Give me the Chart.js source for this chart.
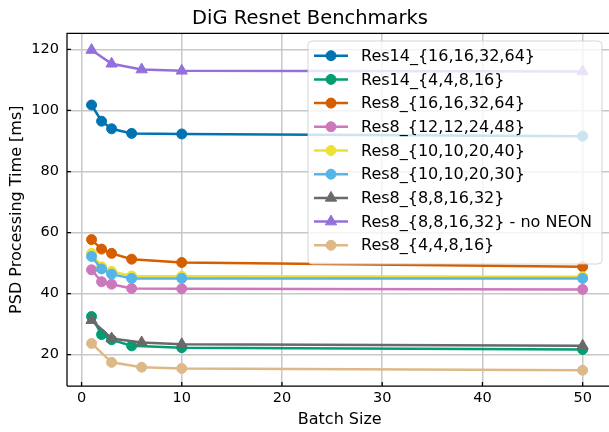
<!DOCTYPE html>
<html>
<head>
<meta charset="utf-8">
<script src="https://cdn.jsdelivr.net/npm/chart.js@4"></script>
<style>
  html, body { margin: 0; padding: 0; background: #fff; overflow: hidden; width: 609px; height: 432px; }
  canvas { display: block; }
</style>
</head>
<body>
<canvas id="myChart" width="620" height="432"></canvas>
<script>
// batch sizes
var batchA = [1, 2, 3, 5, 10, 50]
var batchB = [1, 3, 6, 10, 50]

// processing times [ms]
var res14_16 = [101.8, 96.5, 94.0, 92.5, 92.3, 91.6]
var res14_4 = [32.5, 26.6, 24.9, 22.9, 22.3, 21.7]
var res8_16 = [57.7, 54.6, 53.2, 51.3, 50.2, 48.8]
var res8_12 = [47.8, 43.9, 43.1, 41.7, 41.6, 41.4]
var res8_10_40 = [53.2, 48.8, 47.3, 45.8, 45.7, 45.5]
var res8_10_30 = [52.2, 48.1, 46.4, 45.0, 45.0, 45.0]
var res8_8 = [31.3, 25.3, 24.0, 23.4, 22.9]
var res8_8_noNeon = [119.8, 115.3, 113.4, 113.0, 112.8]
var res8_4 = [23.7, 17.5, 15.9, 15.5, 14.9]

var xTicks = [0, 10, 20, 30, 40, 50]
var yTicks = [20, 40, 60, 80, 100, 120]

var series = [
  { label: 'Res14_{16,16,32,64}', xs: batchA, ys: res14_16, color: '#0173B2', shape: 'circle' },
  { label: 'Res14_{4,4,8,16}', xs: batchA, ys: res14_4, color: '#029E73', shape: 'circle' },
  { label: 'Res8_{16,16,32,64}', xs: batchA, ys: res8_16, color: '#D55E00', shape: 'circle' },
  { label: 'Res8_{12,12,24,48}', xs: batchA, ys: res8_12, color: '#CC78BC', shape: 'circle' },
  { label: 'Res8_{10,10,20,40}', xs: batchA, ys: res8_10_40, color: '#ECE133', shape: 'circle' },
  { label: 'Res8_{10,10,20,30}', xs: batchA, ys: res8_10_30, color: '#56B4E9', shape: 'circle' },
  { label: 'Res8_{8,8,16,32}', xs: batchB, ys: res8_8, color: '#696969', shape: 'triangle' },
  { label: 'Res8_{8,8,16,32} - no NEON', xs: batchB, ys: res8_8_noNeon, color: '#9370DB', shape: 'triangle' },
  { label: 'Res8_{4,4,8,16}', xs: batchB, ys: res8_4, color: '#DEB887', shape: 'circle' }
]

var FONT = "'DejaVu Sans', sans-serif"

function marker(c, shape, x, y, color) {
  c.fillStyle = color
  c.strokeStyle = color
  c.lineWidth = 1
  c.beginPath()
  if (shape == 'triangle') {
    var r = 6.5
    c.moveTo(x, y - r)
    c.lineTo(x + r * 0.866, y + r * 0.5)
    c.lineTo(x - r * 0.866, y + r * 0.5)
    c.closePath()
  } else {
    c.arc(x, y, 5, 0, Math.PI * 2)
  }
  c.fill()
  c.stroke()
}

// frame, inward ticks and the legend box
var extras = {
  id: 'extras',
  afterDatasetsDraw: function(chart) {
    var c = chart.ctx
    var a = chart.chartArea
    var sx = chart.scales.x, sy = chart.scales.y
    c.save()
    c.strokeStyle = '#000'
    c.lineWidth = 1.25
    c.beginPath()
    c.moveTo(a.left, a.bottom); c.lineTo(a.left, a.top); c.lineTo(a.right, a.top)
    c.moveTo(a.left, a.bottom); c.lineTo(a.right, a.bottom)
    xTicks.forEach(function(t) {
      var px = sx.getPixelForValue(t)
      c.moveTo(px, a.bottom); c.lineTo(px, a.bottom - 4)
    })
    yTicks.forEach(function(t) {
      var py = sy.getPixelForValue(t)
      c.moveTo(a.left, py); c.lineTo(a.left + 4, py)
    })
    c.stroke()

    // legend
    var bx = 308, by = 41, bw = 294, bh = 223
    c.beginPath()
    c.roundRect(bx, by, bw, bh, 4)
    c.fillStyle = 'rgba(255,255,255,0.8)'
    c.fill()
    c.strokeStyle = 'rgba(204,204,204,0.8)'
    c.lineWidth = 1
    c.stroke()
    c.font = '16px ' + FONT
    c.textBaseline = 'middle'
    c.textAlign = 'left'
    series.forEach(function(s, i) {
      var yy = 55.7 + i * 23.7
      c.strokeStyle = s.color
      c.lineWidth = 2.5
      c.beginPath()
      c.moveTo(314, yy); c.lineTo(348, yy)
      c.stroke()
      marker(c, s.shape, 331, yy, s.color)
      c.fillStyle = '#000'
      c.fillText(s.label, 361, yy + 1)
    })
    c.restore()
  }
}

const ctx = document.getElementById('myChart')

new Chart(ctx, {
  type: 'line',
  data: {
    datasets: series.map(function(s, i) {
      return {
        label: s.label,
        data: s.xs.map(function(x, j) { return { x: x, y: s.ys[j] } }),
        borderColor: s.color,
        backgroundColor: s.color,
        borderWidth: 2.5,
        pointStyle: s.shape,
        pointRadius: s.shape == 'triangle' ? 6.5 : 5,
        pointBorderWidth: 1,
        tension: 0,
        fill: false,
        order: series.length - i
      }
    })
  },
  options: {
    responsive: false,
    animation: false,
    devicePixelRatio: 1,
    layout: { padding: { left: 0, right: 0, top: 0, bottom: 0 } },
    plugins: {
      legend: { display: false },
      tooltip: { enabled: false },
      title: {
        display: true,
        text: 'DiG Resnet Benchmarks',
        color: '#000',
        font: { family: FONT, size: 19.5, weight: 'normal' },
        padding: { top: 7, bottom: 3 }
      }
    },
    scales: {
      x: {
        type: 'linear',
        min: -1.45,
        max: 52.98,
        afterBuildTicks: function(scale) { scale.ticks = xTicks.map(function(v) { return { value: v } }) },
        afterFit: function(scale) { scale.height = 46 },
        ticks: { color: '#000', font: { family: FONT, size: 14.5 }, padding: 4 },
        grid: { color: '#c8c8c8', lineWidth: 1.5, drawTicks: false },
        border: { display: false },
        title: {
          display: true, text: 'Batch Size', color: '#000',
          font: { family: FONT, size: 16 }, padding: { top: 3, bottom: 2.4 }
        }
      },
      y: {
        min: 9.75,
        max: 125.25,
        afterBuildTicks: function(scale) { scale.ticks = yTicks.map(function(v) { return { value: v } }) },
        afterFit: function(scale) { scale.width = 67 },
        ticks: { color: '#000', font: { family: FONT, size: 14.5 }, padding: 8 },
        grid: { color: '#c8c8c8', lineWidth: 1.5, drawTicks: false },
        border: { display: false },
        title: {
          display: true, text: 'PSD Processing Time [ms]', color: '#000',
          font: { family: FONT, size: 16 }, padding: { top: 7.4, bottom: 4.7 }
        }
      }
    }
  },
  plugins: [extras]
})
</script>
</body>
</html>
